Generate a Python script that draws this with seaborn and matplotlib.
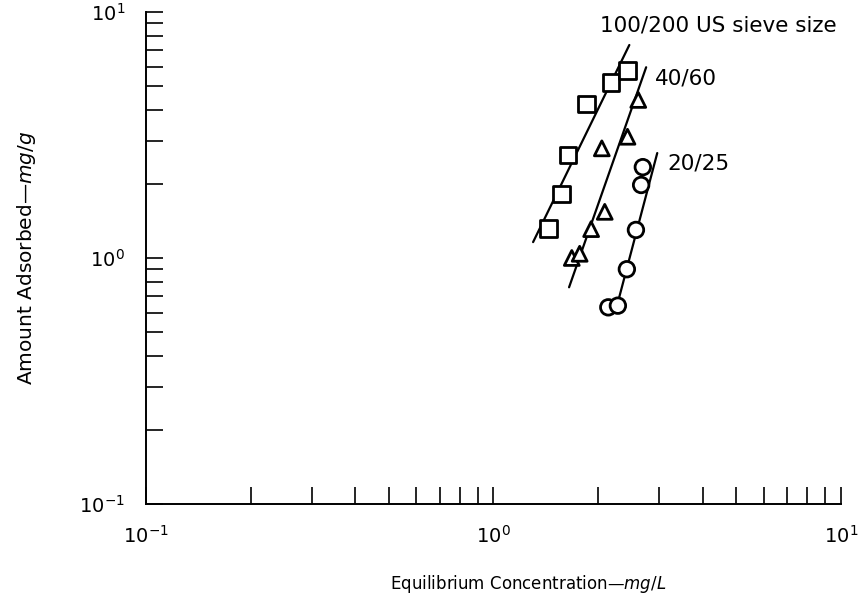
import numpy as np
import pandas as pd
import matplotlib
matplotlib.use('Agg')
import matplotlib.pyplot as plt
import seaborn as sns
from matplotlib.ticker import LogLocator, NullFormatter

sns.set_style('ticks')
plt.rcParams['font.family'] = ['DejaVu Sans']
plt.rcParams['mathtext.fontset'] = 'dejavusans'

# ---- data ----
sieve_sizes = ['100/200', '40/60', '20/25']
conc_100_200 = [1.44, 1.57, 1.64, 1.85, 2.18, 2.43]
ads_100_200 = [1.32, 1.82, 2.62, 4.23, 5.16, 5.77]
conc_40_60 = [1.68, 1.77, 1.91, 2.09, 2.05, 2.43, 2.61]
ads_40_60 = [1.00, 1.04, 1.31, 1.54, 2.79, 3.11, 4.39]
conc_20_25 = [2.14, 2.28, 2.42, 2.57, 2.66, 2.69]
ads_20_25 = [0.63, 0.64, 0.90, 1.30, 1.98, 2.34]

# fitted isotherm lines (end points)
fit_conc_100_200 = [1.30, 2.46]
fit_ads_100_200 = [1.16, 7.34]
fit_conc_40_60 = [1.65, 2.75]
fit_ads_40_60 = [0.76, 5.96]
fit_conc_20_25 = [2.24, 2.96]
fit_ads_20_25 = [0.60, 2.67]

curve_labels = ['100/200 US sieve size', '40/60', '20/25']
label_x = [2.03, 2.92, 3.16]
label_y = [8.85, 5.34, 2.43]

# ---- tables ----
pts = pd.concat([
    pd.DataFrame({'conc': conc_100_200, 'ads': ads_100_200, 'sieve': sieve_sizes[0]}),
    pd.DataFrame({'conc': conc_40_60, 'ads': ads_40_60, 'sieve': sieve_sizes[1]}),
    pd.DataFrame({'conc': conc_20_25, 'ads': ads_20_25, 'sieve': sieve_sizes[2]}),
], ignore_index=True)
fits = pd.concat([
    pd.DataFrame({'conc': fit_conc_100_200, 'ads': fit_ads_100_200, 'sieve': sieve_sizes[0]}),
    pd.DataFrame({'conc': fit_conc_40_60, 'ads': fit_ads_40_60, 'sieve': sieve_sizes[1]}),
    pd.DataFrame({'conc': fit_conc_20_25, 'ads': fit_ads_20_25, 'sieve': sieve_sizes[2]}),
], ignore_index=True)

fig = plt.figure(figsize=(8.62, 6.04), dpi=100)
ax = fig.add_axes([0.1694, 0.1656, 0.8062, 0.8146])
ax.set_xscale('log')
ax.set_yscale('log')

sns.lineplot(data=fits, x='conc', y='ads', units='sieve', estimator=None,
             color='black', linewidth=1.6, legend=False, ax=ax, sort=False)
sns.scatterplot(data=pts, x='conc', y='ads', style='sieve', size='sieve',
                markers={'100/200': 's', '40/60': '^', '20/25': 'o'},
                sizes={'100/200': 140, '40/60': 115, '20/25': 125},
                color='white', edgecolor='black', linewidth=2.0,
                legend=False, ax=ax, zorder=3)

for lab, lx, ly in zip(curve_labels, label_x, label_y):
    ax.text(lx, ly, lab, fontsize=15.5, ha='left', va='center', color='black')

ax.set_xlim(0.1, 10)
ax.set_ylim(0.1, 10)

for axis in (ax.xaxis, ax.yaxis):
    axis.set_major_locator(LogLocator(base=10, numticks=10))
    axis.set_minor_locator(LogLocator(base=10, subs=np.arange(2, 10), numticks=20))
    axis.set_minor_formatter(NullFormatter())

ax.tick_params(which='both', direction='in', length=12, width=1.2, color='black',
               labelcolor='black', bottom=True, left=True, top=False, right=False)
ax.tick_params(axis='x', which='major', pad=15, labelsize=14)
ax.tick_params(axis='y', which='major', pad=15, labelsize=14)

sns.despine(ax=ax)
for sp in ('left', 'bottom'):
    ax.spines[sp].set_linewidth(1.4)
    ax.spines[sp].set_color('black')

ax.set_xlabel('Equilibrium Concentration—$\\mathit{mg/L}$', fontsize=12,
              color='black', va='center')
ax.xaxis.set_label_coords(0.55, -0.163)
ax.set_ylabel('Amount Adsorbed—$\\mathit{mg/g}$', fontsize=14.5,
              labelpad=30, color='black')

fig.savefig('out.png', dpi=100)
